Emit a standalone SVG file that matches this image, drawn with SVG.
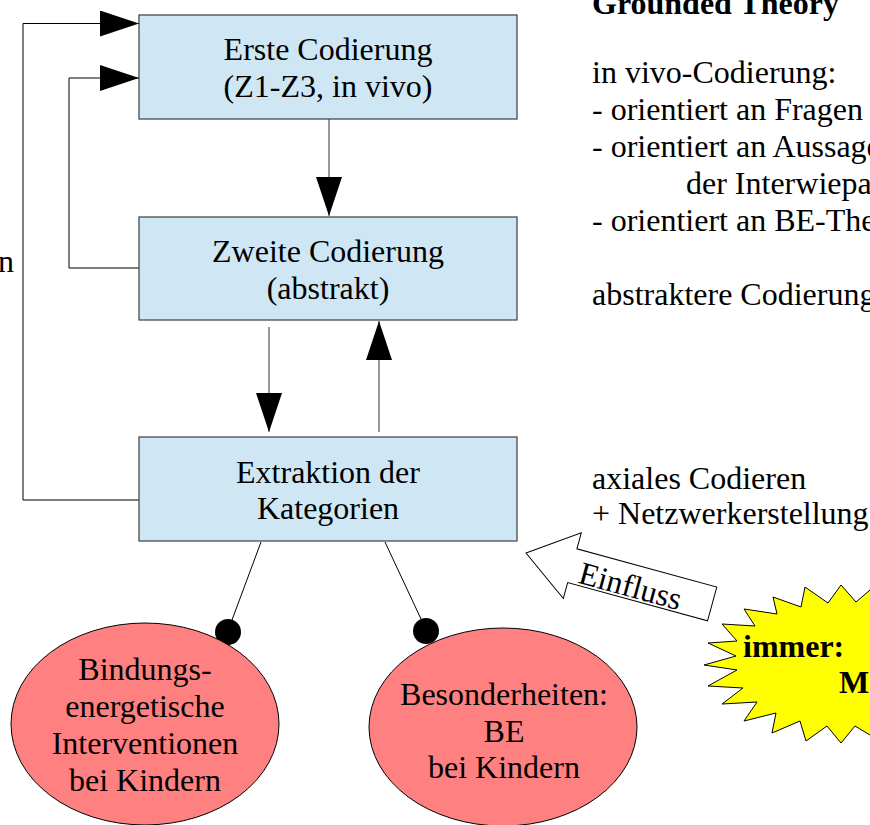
<svg xmlns="http://www.w3.org/2000/svg" width="870" height="825" viewBox="0 0 870 825">
<style>
  text { font-family: "Liberation Serif", "Times New Roman", serif; font-size: 32px; fill: #000; }
  .c { text-anchor: middle; }
  .b { font-weight: bold; }
  .box { fill: #cfe7f5; stroke: #3c3c3c; stroke-width: 1.2; }
  .ell { fill: #ff8080; stroke: #000; stroke-width: 1; }
  .ln { fill: none; stroke: #000; stroke-width: 1; }
  .lg { fill: none; stroke: #555; stroke-width: 1.2; }
</style>
<defs>
  <marker id="ah" markerUnits="userSpaceOnUse" markerWidth="39" markerHeight="26" refX="39" refY="13" orient="auto">
    <path d="M0,0 L39,13 L0,26 Z" fill="#000"/>
  </marker>
</defs>
<rect width="870" height="825" fill="#fff"/>

<g id="connectors">
  <polyline class="ln" points="139,500 23,500 23,23.5 139,23.5" marker-end="url(#ah)"/>
  <polyline class="ln" points="139,268 69,268 69,78 139,78" marker-end="url(#ah)"/>
  <line class="lg" x1="329" y1="119" x2="329" y2="216" marker-end="url(#ah)"/>
  <line class="lg" x1="269" y1="327" x2="269" y2="432" marker-end="url(#ah)"/>
  <line class="lg" x1="379" y1="432" x2="379" y2="321" marker-end="url(#ah)"/>
  <line class="ln" x1="261" y1="542" x2="232" y2="620"/>
  <circle cx="228" cy="632" r="13" fill="#000"/>
  <line class="ln" x1="385" y1="542" x2="421" y2="619"/>
  <circle cx="426" cy="631" r="13" fill="#000"/>
</g>

<g id="box1">
  <rect class="box" x="139" y="15" width="378" height="104"/>
  <text class="c" x="328" y="60">Erste Codierung</text>
  <text class="c" x="328" y="97">(Z1-Z3, in vivo)</text>
</g>
<g id="box2">
  <rect class="box" x="139" y="217" width="378" height="103"/>
  <text class="c" x="328" y="262">Zweite Codierung</text>
  <text class="c" x="328" y="299">(abstrakt)</text>
</g>
<g id="box3">
  <rect class="box" x="139" y="437" width="378" height="104"/>
  <text class="c" x="328" y="483">Extraktion der</text>
  <text class="c" x="328" y="519">Kategorien</text>
</g>

<g id="ellipse1">
  <ellipse class="ell" cx="145" cy="724" rx="134" ry="101"/>
  <text class="c" x="145" y="680">Bindungs-</text>
  <text class="c" x="145" y="717">energetische</text>
  <text class="c" x="145" y="754">Interventionen</text>
  <text class="c" x="145" y="791">bei Kindern</text>
</g>
<g id="ellipse2">
  <ellipse class="ell" cx="503" cy="727" rx="134" ry="99"/>
  <text class="c" x="504" y="705">Besonderheiten:</text>
  <text class="c" x="504" y="742">BE</text>
  <text class="c" x="504" y="778">bei Kindern</text>
</g>

<g id="left-label">
  <text x="14" y="272" text-anchor="end">n</text>
</g>

<g id="notes">
  <text class="b" x="592" y="14">Grounded Theory</text>
  <text x="592" y="83">in vivo-Codierung:</text>
  <text x="592" y="120">- orientiert an Fragen</text>
  <text x="592" y="157">- orientiert an Aussage</text>
  <text x="686" y="194">der Interwiepa</text>
  <text x="592" y="231">- orientiert an BE-The</text>
  <text x="592" y="305">abstraktere Codierung</text>
  <text x="592" y="489">axiales Codieren</text>
  <text x="592" y="524">+ Netzwerkerstellung</text>
</g>

<g id="einfluss" transform="translate(526,553) rotate(15.3)">
  <polygon points="0,0 48,-34 48,-17.5 193,-17.5 193,17.5 48,17.5 48,34" fill="#fff" stroke="#000" stroke-width="1"/>
  <text x="57" y="15">Einfluss</text>
</g>

<g id="starburst">
  <polygon points="900,590 870,590 856,602 841,585 828,603 805,587 801,607 773,597 777,614 744,609 755,626 722,624 737,641 708,643 736,656 704,665 737,670 708,686 743,688 722,704 757,702 744,721 776,713 772,733 800,721 806,741 827,726 841,743 855,726 870,735 900,740" fill="#ffff00" stroke="#000" stroke-width="1"/>
  <text class="b" x="743" y="657">immer:</text>
  <text class="b" x="839" y="693">M</text>
</g>
</svg>
